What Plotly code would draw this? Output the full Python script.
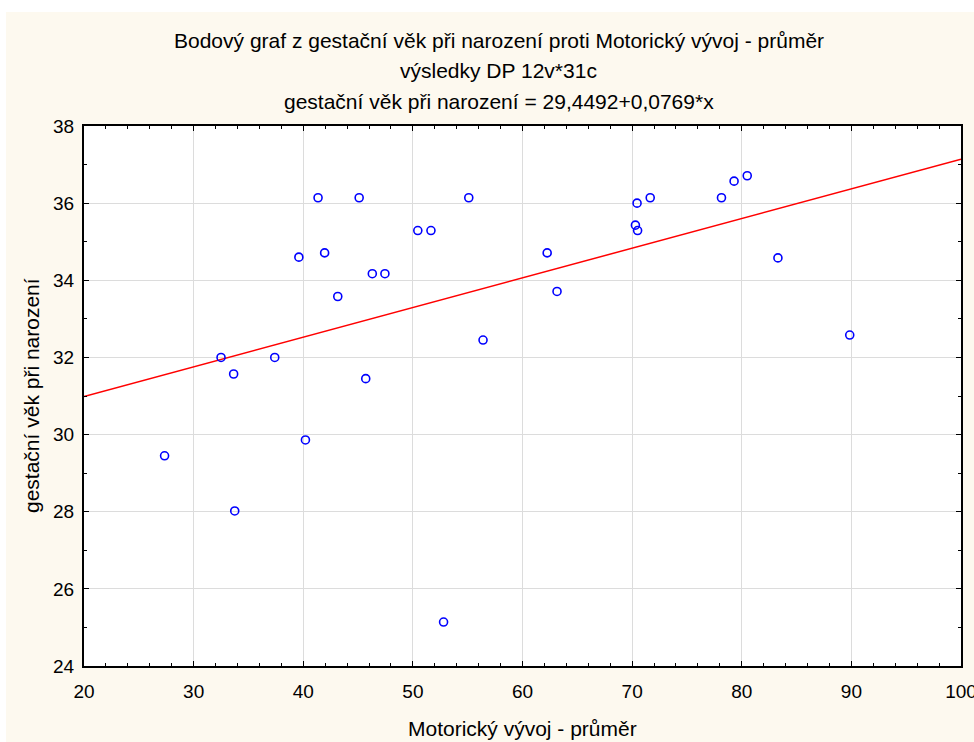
import plotly.graph_objects as go

# Motor development average (x) vs. gestational age at birth (y)
motor_avg = [27.35, 32.5, 33.65, 33.75, 37.4, 39.6, 40.2, 41.35, 41.95, 43.15,
             45.1, 45.7, 46.3, 47.45, 50.45, 51.65, 52.8, 55.1, 56.4, 62.25,
             63.15, 70.3, 70.45, 70.5, 71.65, 78.15, 79.3, 80.5, 83.3, 89.85]
gest_age = [29.45, 32.0, 31.57, 28.02, 32.0, 34.6, 29.86, 36.14, 34.71, 33.58,
            36.14, 31.45, 34.17, 34.17, 35.29, 35.29, 25.14, 36.14, 32.45, 34.71,
            33.71, 35.43, 36.0, 35.29, 36.14, 36.14, 36.57, 36.71, 34.58, 32.58]

# Linear fit reported in the subtitle
intercept = 29.4492
slope = 0.0769
fit_x = [20, 100]
fit_y = [intercept + slope * v for v in fit_x]

x_ticks = [20, 30, 40, 50, 60, 70, 80, 90, 100]
y_ticks = [24, 26, 28, 30, 32, 34, 36, 38]

title_lines = [
    "Bodový graf z gestační věk při narození proti Motorický vývoj - průměr",
    "výsledky DP 12v*31c",
    "gestační věk při narození = 29,4492+0,0769*x",
]

FONT = "Liberation Sans, Arial, sans-serif"
CREAM = "#fdf9ef"
TITLE_SIZE = 21
TICK_SIZE = 19

fig = go.Figure()
fig.add_trace(go.Scatter(
    x=fit_x, y=fit_y, mode="lines",
    line=dict(color="#ff0000", width=1.5),
    hoverinfo="skip", showlegend=False,
))
fig.add_trace(go.Scatter(
    x=motor_avg, y=gest_age, mode="markers",
    marker=dict(symbol="circle-open", size=8, color="#0000ff",
                line=dict(color="#0000ff", width=1.6)),
    showlegend=False,
))

axis_common = dict(
    showline=True, linecolor="black", linewidth=2, mirror="allticks",
    ticks="inside", ticklen=5, tickwidth=1, tickcolor="black",
    showgrid=True, gridcolor="#dcdcdc", gridwidth=1, zeroline=False,
    tickfont=dict(family=FONT, size=TICK_SIZE, color="black"),
    ticklabeloverflow="allow", automargin=False,
)

fig.update_xaxes(
    range=[20, 100], tickvals=x_ticks, ticktext=[str(v) for v in x_ticks],
    minor=dict(ticks="inside", ticklen=3, dtick=2, tick0=20, tickcolor="black", showgrid=False),
    ticklabelstandoff=7,
    **axis_common,
)
fig.update_yaxes(
    range=[24, 38], tickvals=y_ticks, ticktext=[str(v) for v in y_ticks],
    minor=dict(ticks="inside", ticklen=3, dtick=1, tick0=24, tickcolor="black", showgrid=False),
    ticklabelstandoff=4,
    **axis_common,
)

PLOT_W = 974 - 84 - 13
annotations = []
for i, line in enumerate(title_lines):
    annotations.append(dict(
        text=line, xref="paper", yref="paper", x=(498.5 - 84) / PLOT_W,
        y=1, yshift=126 - (40 + 30.5 * i), xanchor="center", yanchor="middle",
        showarrow=False, font=dict(family=FONT, size=TITLE_SIZE, color="black"),
    ))
annotations.append(dict(
    text="Motorický vývoj - průměr", xref="paper", yref="paper", x=0.5, y=0,
    yshift=-(728 - 666), xanchor="center", yanchor="middle", showarrow=False,
    font=dict(family=FONT, size=TITLE_SIZE, color="black"),
))
annotations.append(dict(
    text="gestační věk při narození", xref="paper", yref="paper", x=0, y=0.5,
    xshift=-(84 - 31), xanchor="center", yanchor="middle", textangle=-90,
    showarrow=False, font=dict(family=FONT, size=TITLE_SIZE, color="black"),
))

shapes = [
    # white strip along the top edge
    dict(type="rect", xref="paper", yref="paper", x0=-1, x1=2,
         ysizemode="pixel", yanchor=1, y0=114, y1=140,
         fillcolor="white", line=dict(width=0), layer="below"),
    # white strip along the left edge
    dict(type="rect", xref="paper", yref="paper", y0=-1, y1=2,
         xsizemode="pixel", xanchor=0, x0=-100, x1=-78,
         fillcolor="white", line=dict(width=0), layer="below"),
]

fig.update_layout(
    width=974, height=742,
    margin=dict(l=84, r=13, t=126, b=76, pad=0, autoexpand=False),
    paper_bgcolor=CREAM, plot_bgcolor="white",
    annotations=annotations, shapes=shapes,
    font=dict(family=FONT, color="black"),
)

fig.write_html("out.html")
